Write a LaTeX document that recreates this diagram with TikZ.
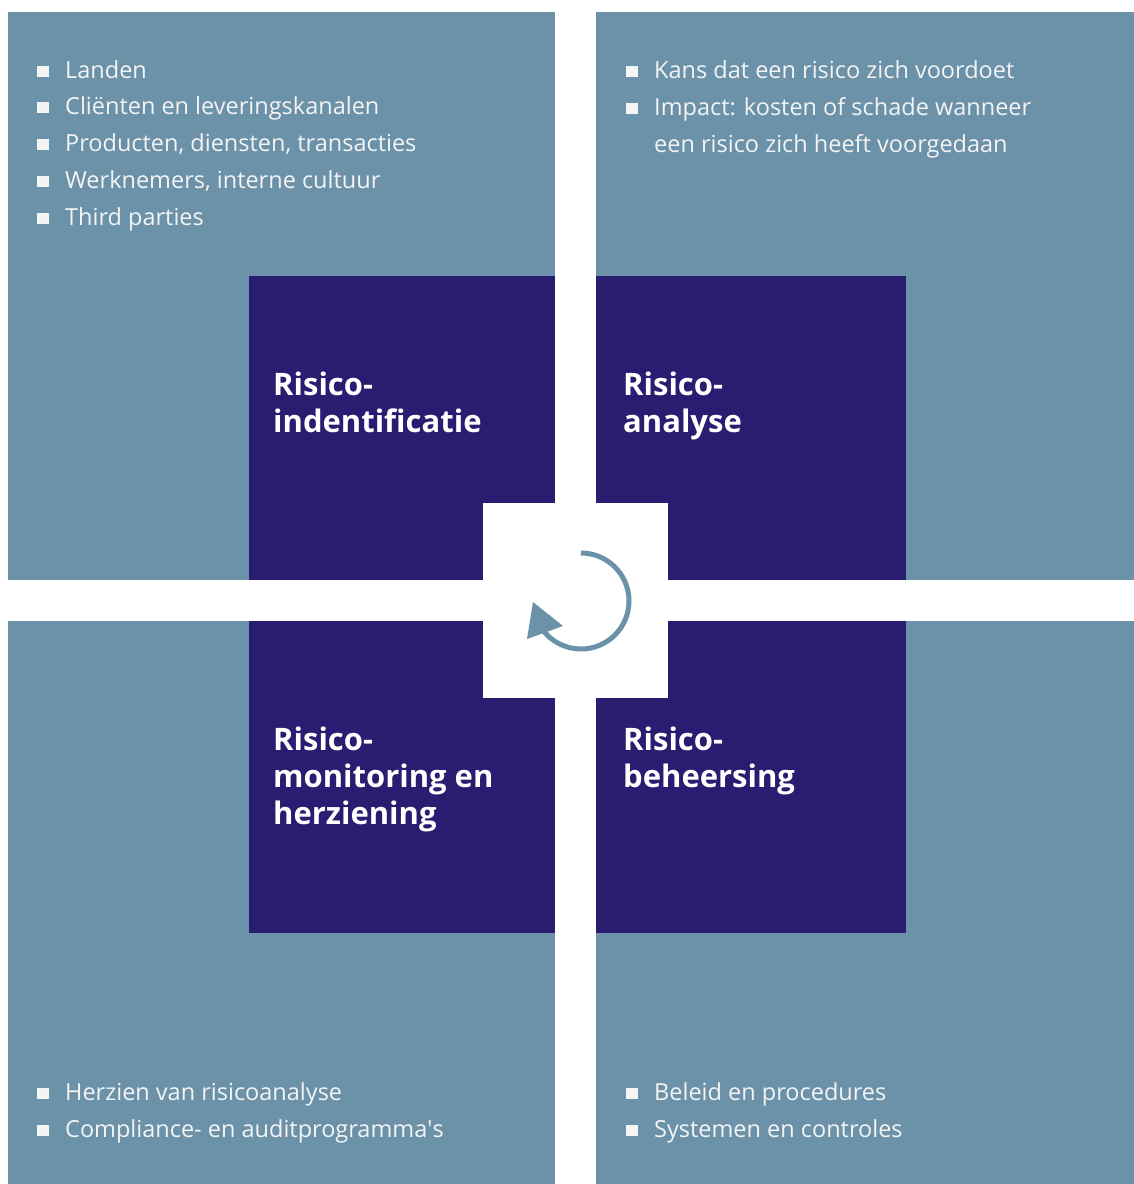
\documentclass[tikz,border=0pt]{standalone}
\usepackage{fontspec}
\setmainfont{Open Sans}
\usetikzlibrary{positioning}
\definecolor{paneblue}{HTML}{6B92A8}
\definecolor{stepnavy}{HTML}{2A1C70}
\definecolor{lighttext}{HTML}{F4F4F4}
\newcommand{\blt}{\makebox[28pt][l]{\rule[1.5pt]{12pt}{11pt}}}
\newcommand{\indnt}{\hspace*{28pt}}

\begin{document}
\begin{tikzpicture}[x=1pt, y=-1pt,
      pane/.style = {fill=paneblue, draw=none, anchor=north west, inner sep=0pt},
      stepbox/.style = {fill=stepnavy, draw=none, anchor=north west, inner sep=0pt},
      steptitle/.style = {anchor=base west, inner sep=0pt, align=left, text=white,
        font=\fontsize{31pt}{37pt}\selectfont\bfseries},
      itemlist/.style = {anchor=base west, inner sep=0pt, align=left, text=lighttext,
        font=\fontsize{23.5pt}{36.7pt}\selectfont}]
  \useasboundingbox[fill=white] (0,0) rectangle (1134,1184);
  % four panes
  \node[pane, minimum width=547, minimum height=568] (idpane) at (8,12) {};
  \node[pane, minimum width=538, minimum height=568] (anpane) at (596,12) {};
  \node[pane, minimum width=547, minimum height=563] (monpane) at (8,621) {};
  \node[pane, minimum width=538, minimum height=563] (behpane) at (596,621) {};
  % dark step boxes
  \node[stepbox, minimum width=306, minimum height=304] (ident) at (249,276) {};
  \node[stepbox, minimum width=310, minimum height=304] (analyse) at (596,276) {};
  \node[stepbox, minimum width=306, minimum height=312] (monitor) at (249,621) {};
  \node[stepbox, minimum width=310, minimum height=312] (beheer) at (596,621) {};
  % white hub with the cycle arrow
  \node[fill=white, anchor=north west, inner sep=0pt, minimum width=185, minimum height=195] (hubsq) at (483,503) {};
  \coordinate (hub) at (581,601);
  \draw[paneblue, line width=5pt] (hub) ++(-90:48) arc[start angle=-90, end angle=145, radius=48];
  \fill[paneblue] (533,602) -- (563,626) -- (527,639) -- cycle;
  % titles (anchored at the last baseline)
  \node[steptitle] (identtxt) at (273,432) {Risico-\\indentificatie};
  \node[steptitle] (analysetxt) at (623,432) {Risico-\\analyse};
  \node[steptitle] (monitortxt) at (273,824) {Risico-\\monitoring en\\herziening};
  \node[steptitle] (beheertxt) at (623,787) {Risico-\\beheersing};
  % item lists
  \node[itemlist] (identlist) at (37,225) {\blt Landen\\
    \blt Cliënten en leveringskanalen\\
    \blt Producten, diensten, transacties\\
    \blt Werknemers, interne cultuur\\
    \blt Third parties};
  \node[itemlist] (analyselist) at (626,152) {\blt Kans dat een risico zich voordoet\\
    \blt Impact: kosten of schade wanneer\\
    \indnt een risico zich heeft voorgedaan};
  \node[itemlist] (monitorlist) at (37,1137) {\blt Herzien van risicoanalyse\\
    \blt Compliance- en auditprogramma\textquotesingle s};
  \node[itemlist] (beheerlist) at (626,1137) {\blt Beleid en procedures\\
    \blt Systemen en controles};
\end{tikzpicture}
\end{document}
